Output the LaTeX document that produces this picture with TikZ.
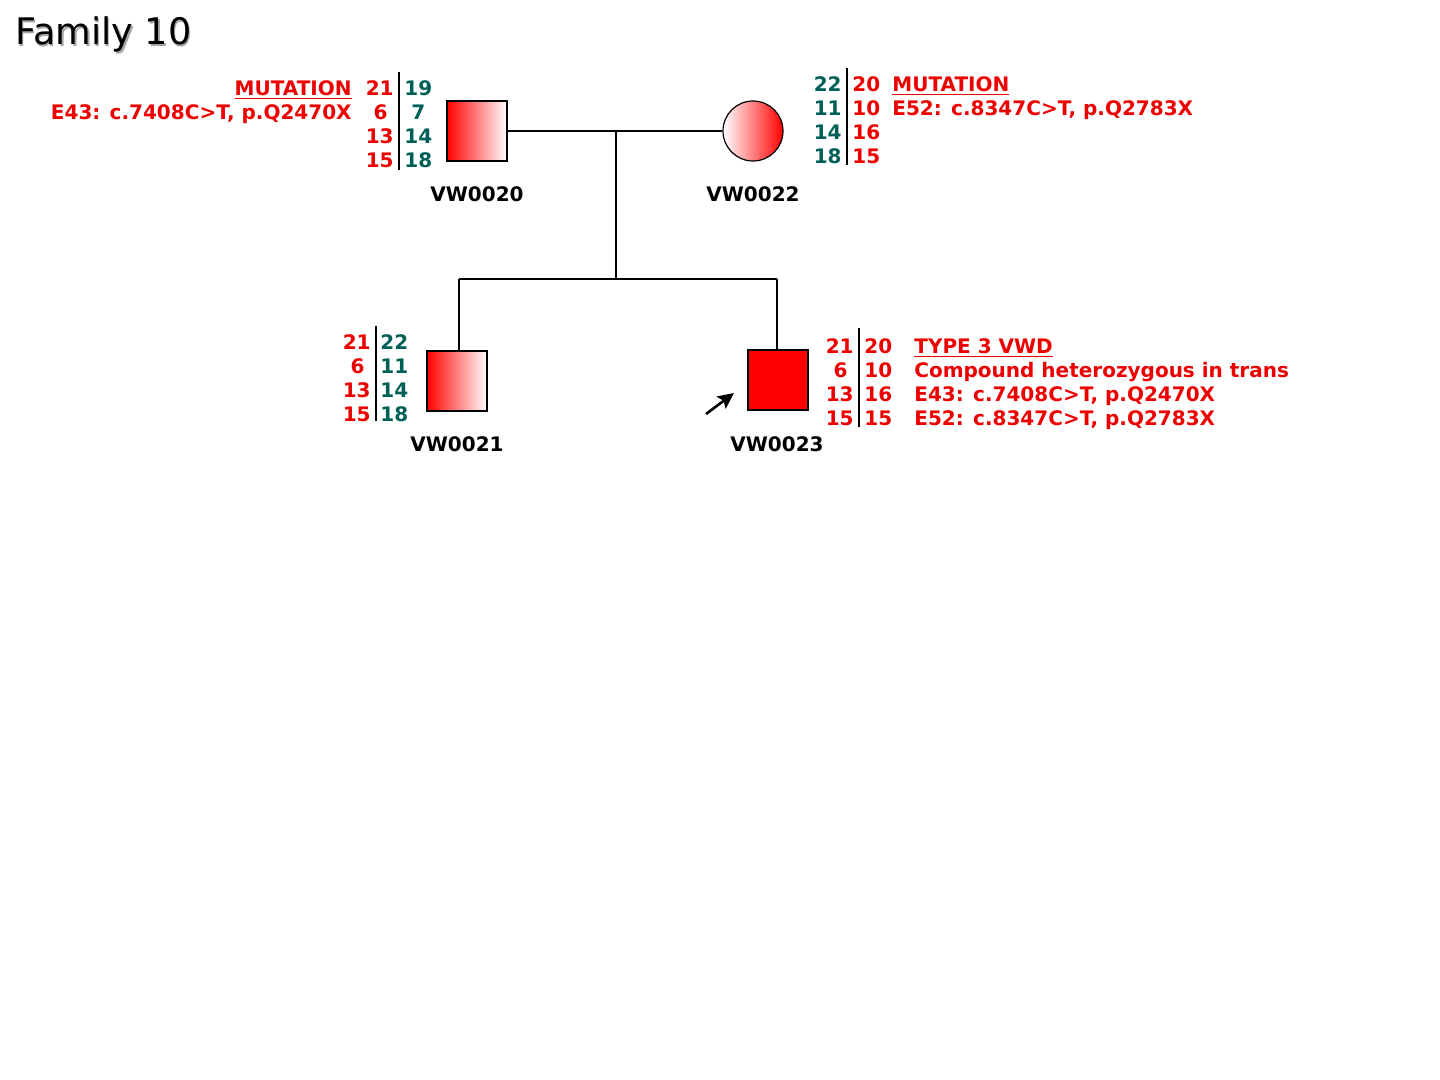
\documentclass[tikz,border=0pt]{standalone}
\usepackage{fontspec}
\setmainfont{DejaVu Sans}
\usetikzlibrary{arrows.meta}
\definecolor{vred}{RGB}{236,0,0}
\definecolor{fred}{RGB}{255,0,0}
\definecolor{vteal}{RGB}{0,96,88}
\tikzset{
  lbl/.style={inner sep=0pt, font=\fontsize{10}{11}\selectfont\bfseries, text height=7.2pt, text depth=0pt},
  rl/.style={lbl, text=vred},
  tl/.style={lbl, text=vteal},
  idl/.style={lbl, text=black},
  person/.style={draw=black, line width=0.6pt, minimum size=30pt, inner sep=0pt},
  link/.style={draw=black, line width=0.6pt},
  bar/.style={draw=black, line width=0.6pt}
}
\begin{document}
\begin{tikzpicture}[x=0.5pt,y=-0.5pt]
\useasboundingbox (0,0) rectangle (1440,1080);
% title
\node[anchor=base west, inner sep=0pt, font=\fontsize{18.3}{20}\selectfont, text=black!35] at (16.5,46.5) {Family 10};
\node[anchor=base west, inner sep=0pt, font=\fontsize{18.3}{20}\selectfont] (title) at (15,45) {Family 10};

% persons
\node[person, rectangle, left color=fred, right color=white] (p20) at (477,131) {};
\node[person, circle, left color=white, right color=fred, minimum size=30pt] (p22) at (753,131) {};
\node[person, rectangle, left color=fred, right color=white] (p21) at (457,381) {};
\node[person, rectangle, fill=fred] (p23) at (778,380) {};

% ids
\node[idl] (i20) at (477,194) {VW0020};
\node[idl] (i22) at (753,194) {VW0022};
\node[idl] (i21) at (457,444) {VW0021};
\node[idl] (i23) at (777,444) {VW0023};

% connectors
\coordinate (mid) at (616,131);
\coordinate (sib) at (616,279);
\coordinate (sl) at (459,279);
\coordinate (sr) at (777,279);
\draw[link] (p20.east) -- (p22.west);
\draw[link] (mid) -- (sib);
\draw[link] (sl) -- (sr);
\draw[link] (sl) -- (sl |- p21.north);
\draw[link] (sr) -- (sr |- p23.north);

% proband arrow
\coordinate (a1) at (706,414);
\coordinate (a2) at (734,393);
\draw[line width=1.3pt, -{Stealth[length=8pt,width=7.5pt,inset=1.5pt]}] (a1) -- (a2);

% VW0020 haplotype
\draw[bar] (399,72) -- (399,170);
\node[rl, anchor=east] (a20l1) at (394,88) {21};
\node[rl, anchor=east] (a20l2) at (388,112) {6};
\node[rl, anchor=east] (a20l3) at (394,136) {13};
\node[rl, anchor=east] (a20l4) at (394,160) {15};
\node[tl, anchor=west] (a20r1) at (404,88) {19};
\node[tl, anchor=west] (a20r2) at (411,112) {7};
\node[tl, anchor=west] (a20r3) at (404,136) {14};
\node[tl, anchor=west] (a20r4) at (404,160) {18};
\node[rl, anchor=east] (m20a) at (352,88) {\underline{MUTATION}};
\node[rl, anchor=east] (m20b) at (352,112) {E43: c.7408C>T, p.Q2470X};

% VW0022 haplotype
\draw[bar] (847,68) -- (847,165);
\node[tl, anchor=east] (a22l1) at (842,84) {22};
\node[tl, anchor=east] (a22l2) at (842,108) {11};
\node[tl, anchor=east] (a22l3) at (842,132) {14};
\node[tl, anchor=east] (a22l4) at (842,156) {18};
\node[rl, anchor=west] (a22r1) at (852,84) {20};
\node[rl, anchor=west] (a22r2) at (852,108) {10};
\node[rl, anchor=west] (a22r3) at (852,132) {16};
\node[rl, anchor=west] (a22r4) at (852,156) {15};
\node[rl, anchor=west] (m22a) at (892,84) {\underline{MUTATION}};
\node[rl, anchor=west] (m22b) at (892,108) {E52: c.8347C>T, p.Q2783X};

% VW0021 haplotype
\draw[bar] (376,326) -- (376,421);
\node[rl, anchor=east] (a21l1) at (371,342) {21};
\node[rl, anchor=east] (a21l2) at (365,366) {6};
\node[rl, anchor=east] (a21l3) at (371,390) {13};
\node[rl, anchor=east] (a21l4) at (371,414) {15};
\node[tl, anchor=west] (a21r1) at (380,342) {22};
\node[tl, anchor=west] (a21r2) at (380,366) {11};
\node[tl, anchor=west] (a21r3) at (380,390) {14};
\node[tl, anchor=west] (a21r4) at (380,414) {18};

% VW0023 haplotype
\draw[bar] (859,328) -- (859,427);
\node[rl, anchor=east] (a23l1) at (854,346) {21};
\node[rl, anchor=east] (a23l2) at (848,370) {6};
\node[rl, anchor=east] (a23l3) at (854,394) {13};
\node[rl, anchor=east] (a23l4) at (854,418) {15};
\node[rl, anchor=west] (a23r1) at (864,346) {20};
\node[rl, anchor=west] (a23r2) at (864,370) {10};
\node[rl, anchor=west] (a23r3) at (864,394) {16};
\node[rl, anchor=west] (a23r4) at (864,418) {15};
\node[rl, anchor=west] (m23a) at (914,346) {\underline{TYPE 3 VWD}};
\node[rl, anchor=west] (m23b) at (914,370) {Compound heterozygous in trans};
\node[rl, anchor=west] (m23c) at (914,394) {E43: c.7408C>T, p.Q2470X};
\node[rl, anchor=west] (m23d) at (914,418) {E52: c.8347C>T, p.Q2783X};
\end{tikzpicture}
\end{document}
